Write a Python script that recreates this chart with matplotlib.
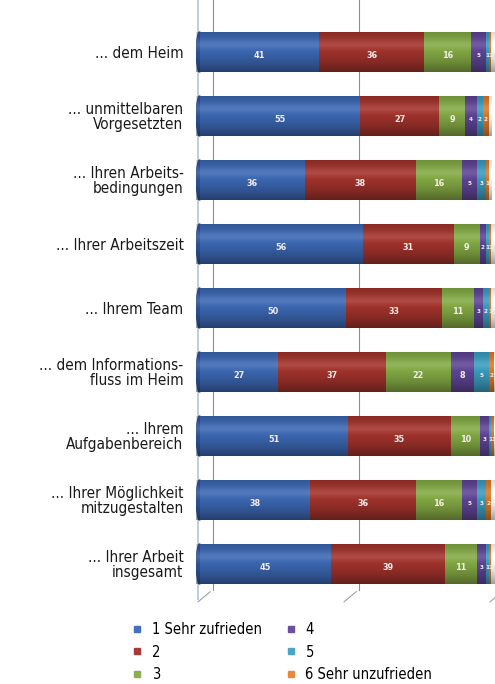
import numpy as np
import matplotlib
matplotlib.use('Agg')
from matplotlib import pyplot as plt
from matplotlib.lines import Line2D
from matplotlib.patches import Ellipse
from matplotlib.transforms import ScaledTranslation

plt.rcParams['font.family'] = ['DejaVu Sans']
plt.rcParams['font.stretch'] = 'condensed'

# Zufriedenheit mit ... (Anteile in %)
items = ['... dem Heim',
         '... unmittelbaren\nVorgesetzten',
         '... Ihren Arbeits-\nbedingungen',
         '... Ihrer Arbeitszeit',
         '... Ihrem Team',
         '... dem Informations-\nfluss im Heim',
         '... Ihrem\nAufgabenbereich',
         '... Ihrer Möglichkeit\nmitzugestalten',
         '... Ihrer Arbeit\ninsgesamt']

note1 = [41, 55, 36, 56, 50, 27, 51, 38, 45]
note2 = [36, 27, 38, 31, 33, 37, 35, 36, 39]
note3 = [16, 9, 16, 9, 11, 22, 10, 16, 11]
note4 = [5, 4, 5, 2, 3, 8, 3, 5, 3]
note5 = [1, 2, 3, 1, 2, 5, 1, 3, 1]
note6 = [1, 2, 1, 1, 1, 2, 1, 2, 1]

series = [note1, note2, note3, note4, note5, note6]
names = ['1 Sehr zufrieden', '2', '3', '4', '5', '6 Sehr unzufrieden']
colors = ['#3c68b3', '#a2332c', '#84aa44', '#5f4596', '#3c9cc0', '#df7a26']
legend_colors = ['#4670bd', '#a83a35', '#8ab04e', '#6a4f9e', '#4ba3c6', '#e8883a']

fig = plt.figure(figsize=(4.95, 6.84), dpi=100)
ax = fig.add_axes([196 / 495, 1 - 600 / 684, 299 / 495, 600 / 684])

y = np.arange(len(items))
h = 0.625

# back wall lines (3d look)
wall = ax.get_xaxis_transform() + ScaledTranslation(0.13, 0, fig.dpi_scale_trans)
for g in [0, 50, 100]:
    ax.plot([g, g], [0.017, 1.0], color='#8a8f99', lw=0.8, transform=wall, zorder=0)
    ax.annotate('', xy=(g, 0.017), xycoords=wall,
                xytext=(-12, -10), textcoords='offset points',
                arrowprops=dict(arrowstyle='-', color='#9aa0aa', lw=0.8))
front = ax.get_xaxis_transform() + ScaledTranslation(-0.02, 0, fig.dpi_scale_trans)
ax.plot([0, 0], [0.0, 1.0], color='#b8c2d2', lw=1.2, transform=front, zorder=0)

# shading for the cylinder look
t = np.linspace(0, 1, 40)
shade = np.zeros((40, 1, 4))
shade[:, 0, 3] = 0.38 * np.abs(t - 0.35) ** 1.5 / 0.65 ** 1.5
hl = np.zeros((40, 1, 4))
hl[:, 0, :3] = 1.0
hl[:, 0, 3] = 0.12 * np.exp(-((t - 0.3) / 0.12) ** 2)

left = np.zeros(len(items))
for vals, col in zip(series, colors):
    vals = np.array(vals, dtype=float)
    ax.barh(y, vals, left=left, height=h, color=col, edgecolor='none', zorder=2)
    for i, v in enumerate(vals):
        fs = 6.5 if v >= 8 else 4.5
        ax.text(left[i] + v / 2, y[i] + 0.06, str(int(v)), ha='center', va='center',
                color='#f4ecec', fontsize=fs, fontweight='bold', zorder=5)
    left += vals

for i in range(len(items)):
    ax.add_patch(Ellipse((0, y[i]), 2.2, h, color='#2f5598', zorder=1.5))
    ax.imshow(shade, extent=(-1.2, left[i] + 1, y[i] + h / 2, y[i] - h / 2),
              origin='upper', aspect='auto', zorder=3, interpolation='bilinear')
    ax.imshow(hl, extent=(-1.2, left[i] + 1, y[i] + h / 2, y[i] - h / 2),
              origin='upper', aspect='auto', zorder=3, interpolation='bilinear')

ax.set_xlim(-1.2, 101.2)
ax.set_ylim(8.5625, -0.8125)
ax.set_yticks(y)
ax.set_yticklabels(items, fontsize=11, color='#1a1a1a', linespacing=1.0)
ax.tick_params(axis='y', length=0, pad=9)
ax.set_xticks([])
for s in ax.spines.values():
    s.set_visible(False)

handles = [Line2D([], [], ls='none', marker='s', markersize=5, color=c) for c in legend_colors]
fig.legend(handles, names, ncol=2, loc='upper left', bbox_to_anchor=(124 / 495, 1 - 615 / 684),
           frameon=False, fontsize=10.5, handlelength=0.8, handletextpad=0.6,
           columnspacing=1.6, labelspacing=0.5, borderpad=0)

fig.savefig('out.png', dpi=100)
